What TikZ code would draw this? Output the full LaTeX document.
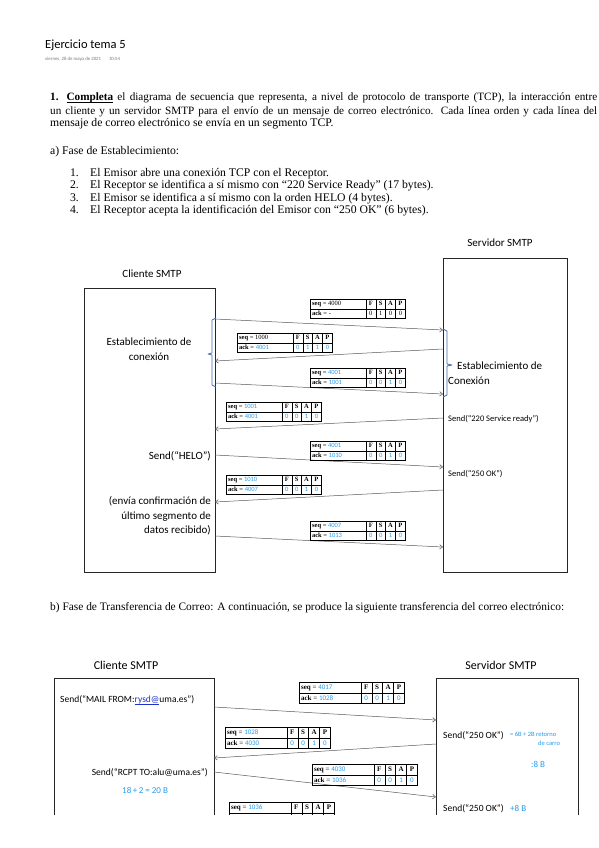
\documentclass[tikz,border=0pt]{standalone}
\usepackage{fontspec}
\usepackage{array}
\setmainfont{Liberation Serif}
\newfontfamily\calfont{Carlito}
\usetikzlibrary{arrows.meta, positioning}
\definecolor{handblue}{RGB}{40,155,235}
\definecolor{bracketblue}{RGB}{65,110,185}
\definecolor{linkblue}{RGB}{30,50,200}
\definecolor{dategray}{RGB}{120,120,120}
\newlength{\seqw}\setlength{\seqw}{53.5pt}
\newlength{\bitw}\setlength{\bitw}{9.5pt}
\newcommand{\hw}[1]{\leavevmode{\calfont\color{handblue}#1}}
\newcommand{\undl}[1]{\setbox0\hbox{#1}\rlap{\rule[-2pt]{\wd0}{0.6pt}}\box0}
\newcommand{\segtab}[6]{%
  \begin{tabular}{|@{\hspace{1.5pt}}p{\seqw}@{}|*{4}{@{}>{\centering\arraybackslash}p{\bitw}@{}|}}\hline
  \textbf{seq} = #1 & \textbf{F} & \textbf{S} & \textbf{A} & \textbf{P}\\\hline
  \textbf{ack} = #2 & #3 & #4 & #5 & #6\\\hline
  \end{tabular}}

\begin{document}
\begin{tikzpicture}[x=1pt, y=-1pt,
    txt/.style={inner sep=0pt, font=\fontsize{11.7}{13}\selectfont},
    lbl/.style={inner sep=0pt, font=\calfont\fontsize{11}{14.5}\selectfont},
    small/.style={inner sep=0pt, font=\calfont\fontsize{8.5}{10}\selectfont},
    lifebox/.style={line width=0.9pt, black!85},
    segtab/.style={inner sep=0pt, anchor=north west, font=\fontsize{6.5}{9}\selectfont},
    segtabb/.style={segtab, font=\fontsize{7}{10}\selectfont\setlength\seqw{59.5pt}\setlength\bitw{10.5pt}},
    msg/.style={-{Straight Barb[length=3pt,width=4.5pt]}, line width=0.5pt, black!65},
    brk/.style={bracketblue, line width=0.8pt, line join=round}
]
\useasboundingbox[fill=white] (0,0) rectangle (599,848);

% header
\node[anchor=base west, inner sep=0pt, font=\calfont\fontsize{12.5}{14}\selectfont] (title) at (45,49) {Ejercicio tema 5};
\node[anchor=base west, inner sep=0pt, font=\calfont\fontsize{4.8}{5}\selectfont, text=dategray] (date) at (45,61) {viernes, 28 de mayo de 2021\hspace{8pt}10:54};

% statement
\node[txt, anchor=base west, font=\fontsize{11.2}{13}\selectfont] (st1) at (50,101) {\makebox[547pt][s]{\textbf{1. \undl{Completa}} el diagrama de secuencia que representa, a nivel de protocolo de transporte (TCP), la interacción entre}};
\node[txt, anchor=base west, font=\fontsize{11.2}{13}\selectfont] (st2) at (50,114) {\makebox[547pt][s]{un cliente y un servidor SMTP para el envío de un mensaje de correo electrónico. Cada línea orden y cada línea del}};
\node[txt, anchor=base west] (st3) at (50,127) {mensaje de correo electrónico se envía en un segmento TCP.};
\node[txt, anchor=base west] (pa) at (50,154) {a) Fase de Establecimiento:};

\node[txt, anchor=base east] (n1) at (79,176) {1.};
\node[txt, anchor=base east] (n2) at (79,188) {2.};
\node[txt, anchor=base east] (n3) at (79,201) {3.};
\node[txt, anchor=base east] (n4) at (79,213) {4.};
\node[txt, anchor=base west] (i1) at (90,176) {El Emisor abre una conexión TCP con el Receptor.};
\node[txt, anchor=base west] (i2) at (90,188) {El Receptor se identifica a sí mismo con “220 Service Ready” (17 bytes).};
\node[txt, anchor=base west] (i3) at (90,201) {El Emisor se identifica a sí mismo con la orden HELO (4 bytes).};
\node[txt, anchor=base west] (i4) at (90,213) {El Receptor acepta la identificación del Emisor con “250 OK” (6 bytes).};

% diagram a
\node[lbl] (srvA) at (500,243) {Servidor SMTP};
\node[lbl] (cliA) at (152,274) {Cliente SMTP};
\draw[lifebox] (84,288) rectangle (215,572);
\draw[lifebox] (443,258) rectangle (567,572);

\coordinate (ca1) at (215,319); \coordinate (sa1) at (443,330);
\coordinate (sa2) at (443,349); \coordinate (ca2) at (215,361);
\coordinate (ca3) at (215,383); \coordinate (sa3) at (443,394);
\coordinate (sa4) at (443,418); \coordinate (ca4) at (215,429);
\coordinate (ca5) at (215,455); \coordinate (sa5) at (443,467);
\coordinate (sa6) at (443,490); \coordinate (ca6) at (215,502);
\coordinate (ca7) at (215,536); \coordinate (sa7) at (443,547);

\draw[msg] (ca1) -- (sa1);
\draw[msg] (sa2) -- (ca2);
\draw[msg] (ca3) -- (sa3);
\draw[msg] (sa4) -- (ca4);
\draw[msg] (ca5) -- (sa5);
\draw[msg] (sa6) -- (ca6);
\draw[msg] (ca7) -- (sa7);

\node[segtab] (ta1) at (310,299) {\segtab{4000}{-}{0}{1}{0}{0}};
\node[segtab] (ta2) at (237,333) {\segtab{1000}{\hw{4001}}{\hw{0}}{\hw{1}}{\hw{1}}{\hw{0}}};
\node[segtab] (ta3) at (310,368) {\segtab{\hw{4001}}{\hw{1001}}{\hw{0}}{\hw{0}}{\hw{1}}{\hw{0}}};
\node[segtab] (ta4) at (226,402) {\segtab{\hw{1001}}{\hw{4001}}{\hw{0}}{\hw{0}}{\hw{1}}{\hw{0}}};
\node[segtab] (ta5) at (310,441) {\segtab{\hw{4001}}{\hw{1010}}{\hw{0}}{\hw{0}}{\hw{1}}{\hw{0}}};
\node[segtab] (ta6) at (226,475) {\segtab{\hw{1010}}{\hw{4007}}{\hw{0}}{\hw{0}}{\hw{1}}{\hw{0}}};
\node[segtab] (ta7) at (310,521) {\segtab{\hw{4007}}{\hw{1013}}{\hw{0}}{\hw{0}}{\hw{1}}{\hw{0}}};

% brackets
\draw[brk] (216,318) -- (212,320) -- (212,353) -- (208,354) -- (212,355) -- (212,385) -- (216,387);
\draw[brk] (443,329) -- (447,331) -- (447,364) -- (452,365) -- (447,366) -- (447,395) -- (443,397);

\node[lbl, align=center] (estc) at (149,349) {Establecimiento de\\conexión};
\node[lbl, align=left, anchor=north west] (ests) at (448,362) {\hspace*{9pt}Establecimiento de\\Conexión};
\node[small, anchor=west] (s220) at (448,419) {Send(“220 Service ready”)};
\node[lbl, anchor=east] (helo) at (211,456) {Send(“HELO”)};
\node[small, anchor=west] (s250a) at (448,474) {Send(“250 OK”)};
\node[lbl, align=right, anchor=east] (conf) at (211,516) {(envía confirmación de\\último segmento de\\datos recibido)};

% part b
\node[txt, anchor=base west, font=\fontsize{11.4}{13}\selectfont] (pb) at (50,610) {b) Fase de Transferencia de Correo: A continuación, se produce la siguiente transferencia del correo electrónico:};

\begin{scope}
\clip (0,640) rectangle (599,814);
\node[lbl, font=\calfont\fontsize{12}{14}\selectfont] (cliB) at (126,665) {Cliente SMTP};
\node[lbl, font=\calfont\fontsize{12}{14}\selectfont] (srvB) at (501,665) {Servidor SMTP};
\draw[lifebox] (54,830) |- (214,678) -- (214,830);
\draw[lifebox] (436,830) |- (578,678) -- (578,830);

\coordinate (cb1) at (214,707); \coordinate (sb1) at (436,720);
\coordinate (sb2) at (436,744); \coordinate (cb2) at (214,758);
\coordinate (cb3) at (214,772); \coordinate (sb3) at (436,797);

\draw[msg] (cb1) -- (sb1);
\draw[msg] (sb2) -- (cb2);
\draw[msg] (cb3) -- (sb3);

\node[segtabb] (tb1) at (299,682) {\segtab{\hw{4017}}{\hw{1028}}{\hw{0}}{\hw{0}}{\hw{1}}{\hw{0}}};
\node[segtabb] (tb2) at (225,727) {\segtab{\hw{1028}}{\hw{4030}}{\hw{0}}{\hw{0}}{\hw{1}}{\hw{0}}};
\node[segtabb] (tb3) at (312,764) {\segtab{\hw{4030}}{\hw{1036}}{\hw{0}}{\hw{0}}{\hw{1}}{\hw{0}}};
\node[segtabb] (tb4) at (229,802) {\segtab{\hw{1036}}{}{}{}{}{}};

\node[small, font=\calfont\fontsize{9.5}{11}\selectfont, anchor=west] (mail) at (60,700) {Send(“MAIL FROM:{\color{linkblue}\undl{rysd@}}uma.es”)};
\node[small, font=\calfont\fontsize{9.5}{11}\selectfont, anchor=east] (rcpt) at (208,773) {Send(“RCPT TO:alu@uma.es”)};
\node[small, anchor=west, font=\calfont\fontsize{9}{11}\selectfont, text=handblue] (n20) at (122,790) {18\,+\,2 = 20 B};
\node[small, font=\calfont\fontsize{9.5}{11}\selectfont, anchor=west] (s250b) at (443,736) {Send(“250 OK”)};
\node[anchor=west, inner sep=0pt, align=left, font=\calfont\fontsize{6.5}{9}\selectfont, text=handblue] (n8) at (510,739) {= 6B + 2B retorno\\\hspace*{28pt}de carro};
\node[anchor=west, inner sep=0pt, font=\calfont\fontsize{9}{11}\selectfont, text=handblue] (n8b) at (531,764) {:8 B};
\node[small, font=\calfont\fontsize{9.5}{11}\selectfont, anchor=west] (s250c) at (443,809) {Send(“250 OK”)};
\node[anchor=west, inner sep=0pt, font=\calfont\fontsize{9}{11}\selectfont, text=handblue] (n8c) at (510,808) {+8 B};
\end{scope}
\end{tikzpicture}
\end{document}
